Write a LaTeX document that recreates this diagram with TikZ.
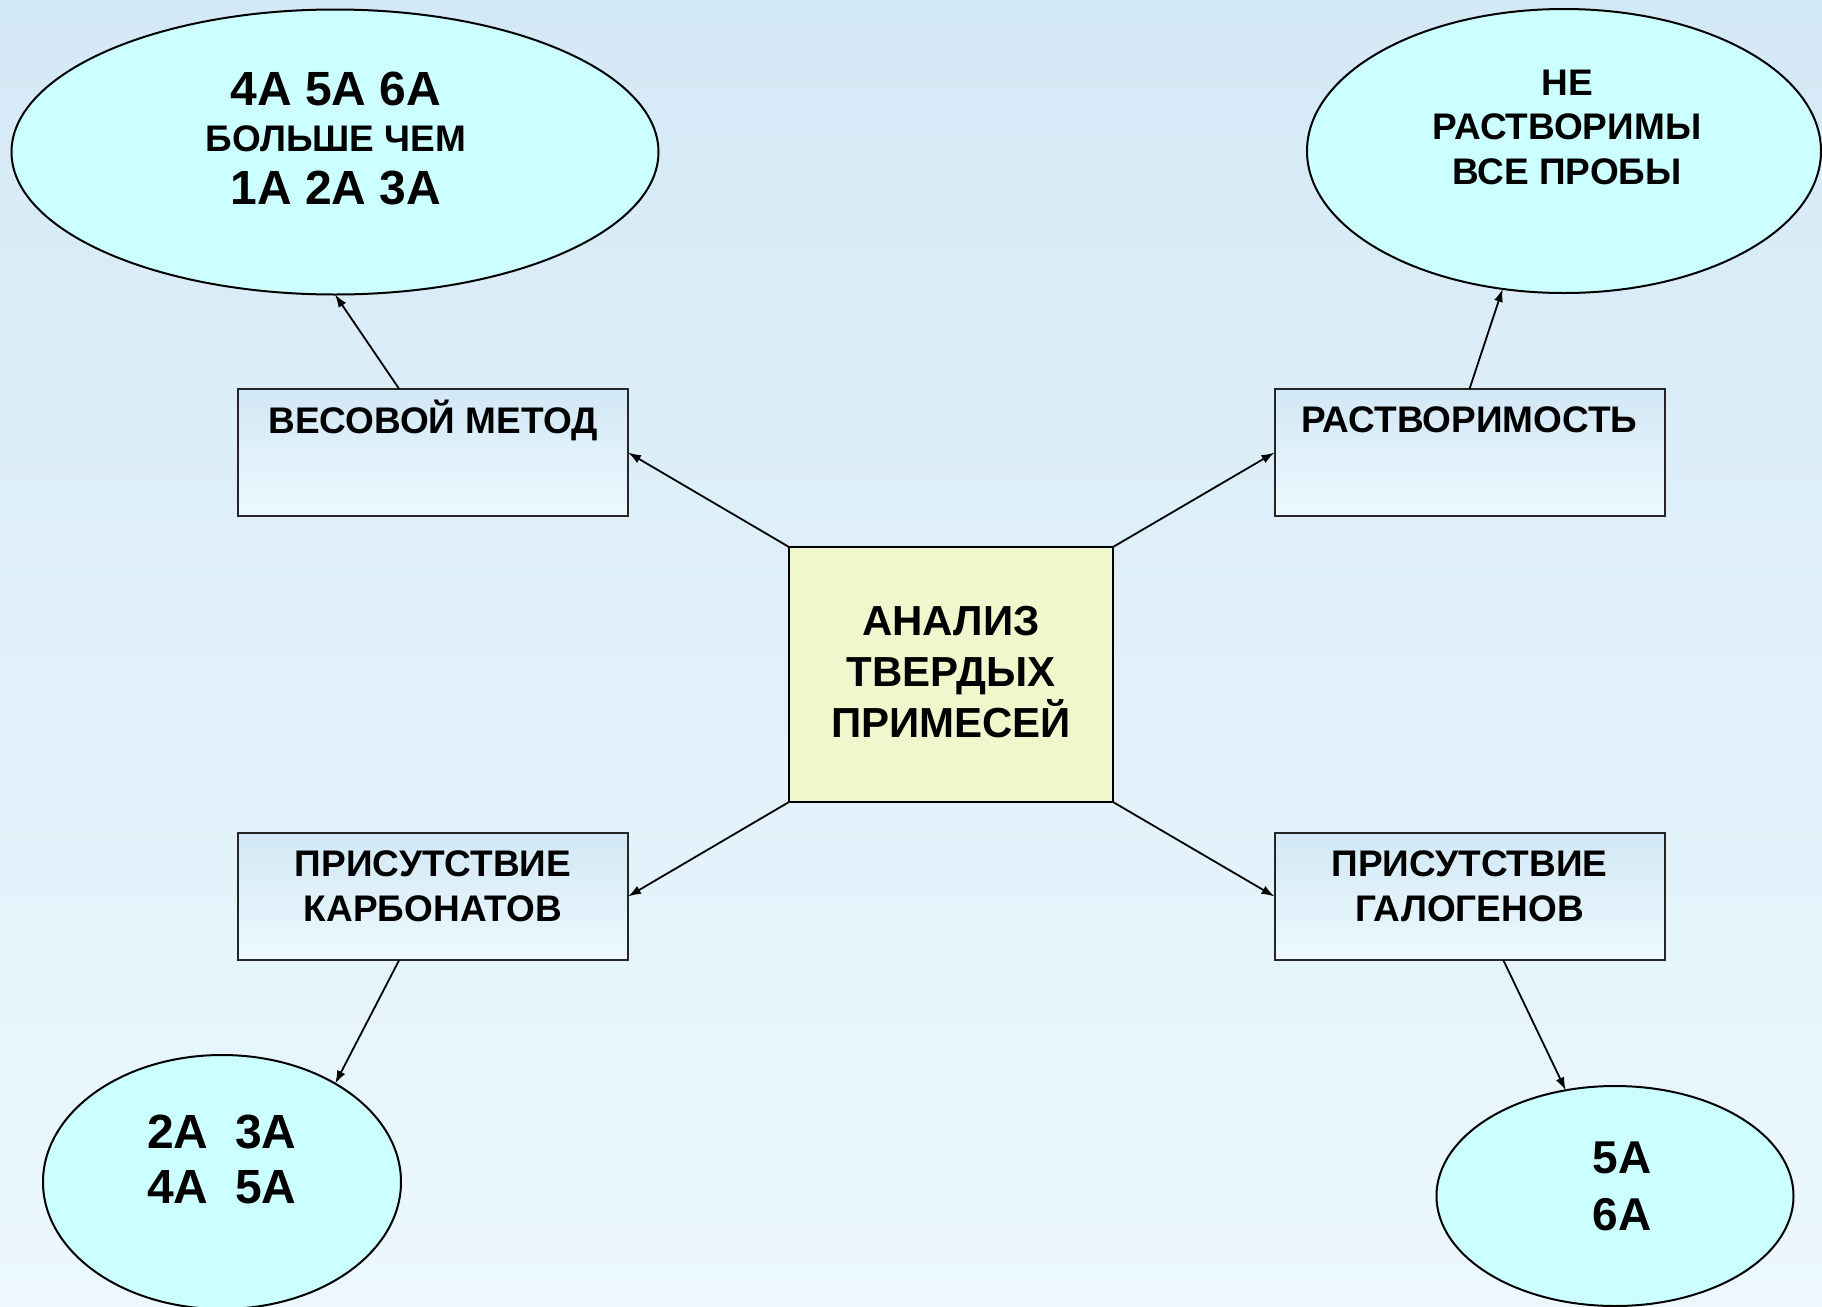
\documentclass[tikz,border=0pt]{standalone}
\usepackage{fontspec}
\setmainfont{Liberation Sans}
\usetikzlibrary{shapes.geometric,arrows.meta}
\definecolor{skytop}{RGB}{212,233,246}
\definecolor{skybottom}{RGB}{236,248,253}
\definecolor{ovalfill}{RGB}{204,255,255}
\definecolor{hubfill}{RGB}{238,248,204}
\definecolor{paneltop}{RGB}{210,232,245}
\definecolor{panelbottom}{RGB}{237,249,254}
\tikzset{
	oval/.style={ellipse, draw=black, line width=1pt, fill=ovalfill, inner sep=0pt, outer sep=0pt},
	panel/.style={rectangle, draw=black!85, line width=1pt, top color=paneltop, bottom color=panelbottom, minimum width=195pt, minimum height=63.5pt, inner sep=0pt, outer sep=0pt},
	hub/.style={rectangle, draw=black, line width=1pt, fill=hubfill, minimum width=162pt, minimum height=127.5pt, inner sep=0pt, outer sep=0pt},
	link/.style={-{Latex[length=6.5pt,width=4.5pt]}, line width=0.9pt},
	caption/.style={align=center, inner sep=0pt, font=\bfseries\fontsize{18.5pt}{22.5pt}\selectfont},
}

\begin{document}
\begin{tikzpicture}[x=0.5pt, y=-0.5pt]
	% Background:
	\useasboundingbox (0, 0) rectangle (1822, 1307);
	\fill[top color=skytop, bottom color=skybottom] (0, 0) rectangle (1822, 1307);
	% Shapes:
	\node[hub] (hub) at (951, 674.5){};
	\node[panel] (weightbox) at (433, 452.5){};
	\node[panel] (solubbox) at (1469.5, 452.5){};
	\node[panel] (carbbox) at (433, 896.5){};
	\node[panel] (halobox) at (1469.5, 896.5){};
	\node[oval, minimum width=323.5pt, minimum height=142.5pt] (weightoval) at (335, 152){};
	\node[oval, minimum width=257pt, minimum height=142pt] (soluboval) at (1564, 151){};
	\node[oval, minimum width=179pt, minimum height=127pt] (carboval) at (222, 1182){};
	\node[oval, minimum width=178.5pt, minimum height=110pt] (halooval) at (1615, 1196){};
	% Texts:
	\node[caption, font=\bfseries\fontsize{21pt}{25.5pt}\selectfont] (hublabel) at (951, 672){АНАЛИЗ\\ТВЕРДЫХ\\ПРИМЕСЕЙ};
	\node[caption] (weightlabel) at (433, 420.5){ВЕСОВОЙ МЕТОД};
	\node[caption] (soublabel) at (1469.5, 420){РАСТВОРИМОСТЬ};
	\node[caption] (carblabel) at (433, 886){ПРИСУТСТВИЕ\\КАРБОНАТОВ};
	\node[caption] (halolabel) at (1469.5, 886.5){ПРИСУТСТВИЕ\\ГАЛОГЕНОВ};
	\node[caption, font=\bfseries\fontsize{24pt}{24.75pt}\selectfont] (weightnote) at (336, 138.5){4A 5A 6A\\[-1.5pt]{\fontsize{18.5pt}{22.5pt}\selectfont БОЛЬШЕ ЧЕМ}\\[1.5pt]1A 2A 3A};
	\node[caption, font=\bfseries\fontsize{18.5pt}{22.25pt}\selectfont] (solubnote) at (1567, 127){НЕ\\РАСТВОРИМЫ\\ВСЕ ПРОБЫ};
	\node[caption, font=\bfseries\fontsize{24pt}{27.5pt}\selectfont] (carbnote) at (222, 1159){2A\ \ 3A\\4A\ \ 5A};
	\node[caption, font=\bfseries\fontsize{23pt}{28.5pt}\selectfont] (halonote) at (1622, 1186){5A\\6A};
	% Connectors:
	\draw[link] (hub.north west) -- (weightbox.east);
	\draw[link] (hub.north east) -- (solubbox.west);
	\draw[link] (hub.south west) -- (carbbox.east);
	\draw[link] (hub.south east) -- (halobox.west);
	\draw[link] (weightbox.118) -- (weightoval.south);
	\draw[link] (solubbox.north) -- (soluboval.246);
	\draw[link] (carbbox.242) -- (carboval.41);
	\draw[link] (halobox.298) -- (halooval.115);
\end{tikzpicture}
\end{document}
